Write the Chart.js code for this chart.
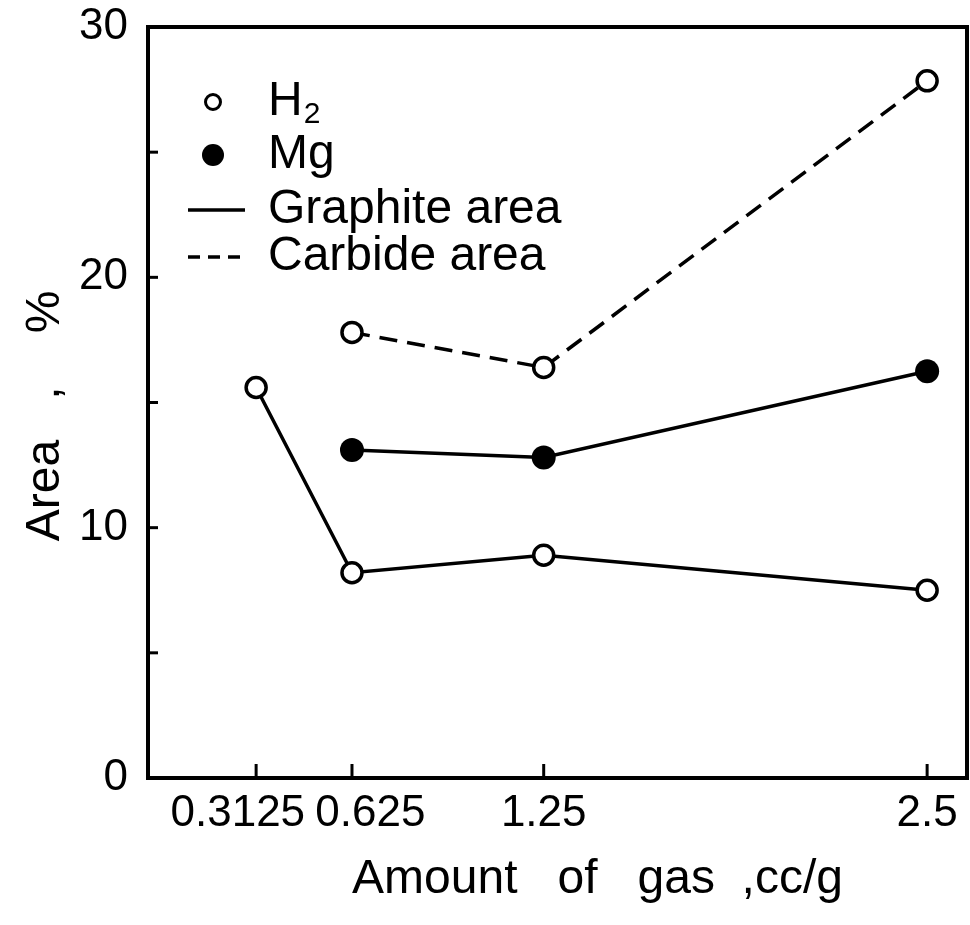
<!DOCTYPE html>
<html>
<head>
<meta charset="utf-8">
<script src="https://cdn.jsdelivr.net/npm/chart.js@4/dist/chart.umd.min.js"></script>
<style>
  html, body { margin: 0; padding: 0; background: #fff; overflow: hidden; }
  #wrap { width: 970px; height: 925px; }
  canvas { display: block; }
</style>
</head>
<body>
<div id="wrap"><canvas id="c" width="970" height="925"></canvas></div>
<script>
// ---- data ----
const gasAmounts = [0.3125, 0.625, 1.25, 2.5];
const xTickLabels = ['0.3125   ', '   0.625', '1.25', '2.5'];
const graphiteH2 = [15.6, 8.2, 8.9, 7.5];
const graphiteMg = [null, 13.1, 12.8, 16.25];
const carbideH2 = [null, 17.8, 16.4, 27.85];
const yTickValues = [0, 5, 10, 15, 20, 25, 30];
const yTickLabels = ['0', '', '10', '', '20', '', '30'];
const legendLabels = ['H', 'Mg', 'Graphite area', 'Carbide area'];
const xTitle = '      Amount   of   gas  ,cc/g';
const yTitle = 'Area   ,    %  ';

const FONT = "'Liberation Sans', Arial, sans-serif";

function toPoints(vals) {
  return gasAmounts.map((x, i) => ({ x: x, y: vals[i] }));
}

const framePlugin = {
  id: 'frame',
  afterDraw(chart) {
    const { ctx, chartArea: a, scales } = chart;
    ctx.save();
    ctx.strokeStyle = '#000';
    ctx.lineWidth = 4;
    ctx.setLineDash([]);
    ctx.strokeRect(a.left, a.top, a.right - a.left, a.bottom - a.top);
    // inward ticks
    ctx.lineWidth = 3;
    yTickValues.forEach(v => {
      const p = scales.y.getPixelForValue(v);
      ctx.beginPath(); ctx.moveTo(a.left, p); ctx.lineTo(a.left + 10, p); ctx.stroke();
    });
    gasAmounts.forEach(v => {
      const p = scales.x.getPixelForValue(v);
      ctx.beginPath(); ctx.moveTo(p, a.bottom); ctx.lineTo(p, a.bottom - 14); ctx.stroke();
    });
    // legend
    const mx = a.left + 65, tx = a.left + 120;
    const rows = [a.top + 75, a.top + 128, a.top + 183, a.top + 230];
    ctx.fillStyle = '#000';
    ctx.textBaseline = 'middle';
    ctx.textAlign = 'left';
    // H2
    ctx.lineWidth = 3;
    ctx.beginPath(); ctx.arc(mx, rows[0], 7.5, 0, Math.PI * 2);
    ctx.fillStyle = '#fff'; ctx.fill(); ctx.stroke();
    ctx.fillStyle = '#000';
    ctx.font = '48px ' + FONT;
    ctx.fillText(legendLabels[0], tx, rows[0]);
    const hw = ctx.measureText(legendLabels[0]).width;
    ctx.font = '30px ' + FONT;
    ctx.fillText('2', tx + hw + 1, rows[0] + 13);
    // Mg
    ctx.beginPath(); ctx.arc(mx, rows[1], 11, 0, Math.PI * 2); ctx.fill();
    ctx.font = '48px ' + FONT;
    ctx.fillText(legendLabels[1], tx, rows[1]);
    // Graphite
    ctx.lineWidth = 3.5;
    ctx.beginPath(); ctx.moveTo(mx - 25, rows[2]); ctx.lineTo(mx + 32, rows[2]); ctx.stroke();
    ctx.fillText(legendLabels[2], tx, rows[2]);
    // Carbide
    ctx.setLineDash([12, 8]);
    ctx.beginPath(); ctx.moveTo(mx - 25, rows[3]); ctx.lineTo(mx + 32, rows[3]); ctx.stroke();
    ctx.setLineDash([]);
    ctx.fillText(legendLabels[3], tx, rows[3]);
    ctx.restore();
  }
};

const openPoint = { pointStyle: 'circle', pointRadius: 10, pointBorderWidth: 3.5, pointBackgroundColor: '#fff', pointBorderColor: '#000' };

new Chart(document.getElementById('c'), {
  type: 'line',
  data: {
    datasets: [
      Object.assign({ label: 'Graphite area (H2)', data: toPoints(graphiteH2), borderColor: '#000', borderWidth: 3.5, spanGaps: true }, openPoint),
      { label: 'Graphite area (Mg)', data: toPoints(graphiteMg), borderColor: '#000', borderWidth: 3.5, spanGaps: true,
        pointStyle: 'circle', pointRadius: 12, pointBorderWidth: 0, pointBackgroundColor: '#000', pointBorderColor: '#000' },
      Object.assign({ label: 'Carbide area (H2)', data: toPoints(carbideH2), borderColor: '#000', borderWidth: 3.5, borderDash: [18, 10], spanGaps: true }, openPoint)
    ]
  },
  options: {
    responsive: false,
    devicePixelRatio: 1,
    animation: false,
    layout: { autoPadding: false, padding: { top: 27, right: 3, bottom: 0, left: 0 } },
    plugins: { legend: { display: false }, tooltip: { enabled: false } },
    scales: {
      x: {
        type: 'linear',
        min: -0.04,
        max: 2.63,
        grid: { display: false, drawTicks: false },
        border: { display: false },
        afterBuildTicks: s => { s.ticks = gasAmounts.map(v => ({ value: v })); },
        afterFit: s => { s.height = 147; s.paddingLeft = 0; s.paddingRight = 0; },
        ticks: {
          autoSkip: false,
          maxRotation: 0,
          padding: 9,
          color: '#000',
          font: { family: FONT, size: 44 },
          callback: (v, i) => xTickLabels[i]
        },
        title: {
          display: true,
          text: xTitle,
          color: '#000',
          font: { family: FONT, size: 48 },
          padding: { top: 0, bottom: 16 }
        }
      },
      y: {
        type: 'linear',
        min: 0,
        max: 30,
        grid: { display: false, drawTicks: false },
        border: { display: false },
        afterBuildTicks: s => { s.ticks = yTickValues.map(v => ({ value: v })); },
        afterFit: s => { s.width = 148; s.paddingTop = 0; s.paddingBottom = 0; },
        ticks: {
          autoSkip: false,
          padding: 20,
          color: '#000',
          font: { family: FONT, size: 44 },
          callback: (v, i) => yTickLabels[i]
        },
        title: {
          display: true,
          text: yTitle,
          color: '#000',
          font: { family: FONT, size: 48 },
          padding: { top: 17, bottom: 0 }
        }
      }
    }
  },
  plugins: [framePlugin]
});
</script>
</body>
</html>
